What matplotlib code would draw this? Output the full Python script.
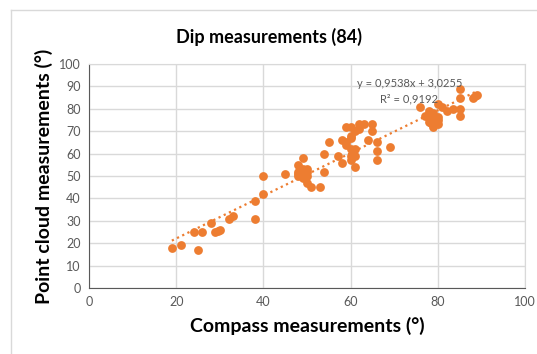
import matplotlib
matplotlib.use('Agg')
from matplotlib import pyplot as plt
import numpy as np

plt.rcParams['font.family'] = ['Lato', 'DejaVu Sans']

# dip values (84 points)
compass = [19, 21, 24, 25, 26, 28, 29, 30, 29.5, 32, 33, 38, 38, 40, 40, 45,
           48, 49, 48, 48, 49, 49, 50, 50, 48, 49, 50, 51, 53, 54, 54, 55, 57, 58, 58, 59,
           59, 60, 60, 60, 61, 60, 61, 61, 61, 62, 63, 62, 65, 65, 64, 66, 66, 66, 69, 60, 59,
           76, 78, 79, 79, 78, 78.5, 79, 80, 79, 80, 80, 81, 82, 83.5, 85, 85, 85, 85, 88, 89,
           88.5, 77, 78, 80, 50, 60, 79]
point_cloud = [18, 19, 25, 17, 25, 29, 25, 26, 25.5, 31, 32, 31, 39, 50, 42, 51,
               55, 58, 52, 51, 53, 51, 52, 50, 50, 49, 47, 45, 45, 52, 60, 65, 59, 56, 66, 65,
               72, 72, 68, 62, 62, 57, 59, 54, 70, 71, 73, 73, 73, 70, 66, 65, 61, 57, 63, 67, 64,
               81, 79, 78, 77, 74, 73.5, 74, 75, 72, 76.5, 82, 81, 79, 80, 80, 77, 85, 89, 85, 86,
               85.5, 77, 76, 73, 53, 59, 75]

# linear trend from the chart label
slope = 0.9538
intercept = 3.0255
eq_text = 'y = 0,9538x + 3,0255'
r2_text = 'R² = 0,9192'

orange = '#ED7D31'

fig = plt.figure(figsize=(5.37, 3.54), dpi=100)
# chart border like excel
fig.add_artist(plt.Line2D([11/537, 1], [1-10/354, 1-10/354], color='#D9D9D9', lw=1))
fig.add_artist(plt.Line2D([11/537, 11/537], [0, 1-10/354], color='#D9D9D9', lw=1))

ax = fig.add_axes([89/537, 1-288/354, (525-89)/537, (288-64)/354])
ax.scatter(compass, point_cloud, s=40, color=orange, zorder=3, linewidths=0)

xs = np.array([min(compass), max(compass)])
ax.plot(xs, slope*xs + intercept, color=orange, lw=1.6, ls=(0, (1, 1.6)), zorder=2)

ax.text(73.5, 91.5, eq_text, ha='center', va='center', fontsize=8, color='#595959')
ax.text(73.5, 84.5, r2_text, ha='center', va='center', fontsize=8, color='#595959')

ax.set_xlim(0, 100)
ax.set_ylim(0, 100)
ax.set_xticks(range(0, 101, 20))
ax.set_yticks(range(0, 101, 10))
ax.grid(True, color='#D9D9D9', lw=1)
ax.set_axisbelow(True)
for s in ['top', 'right']:
    ax.spines[s].set_color('#D9D9D9')
for s in ['left', 'bottom']:
    ax.spines[s].set_color('#595959')
ax.tick_params(length=0, labelsize=9, labelcolor='#595959', pad=6)

ax.set_xlabel('Compass measurements (°)', fontsize=14, fontweight='bold', labelpad=6)
ax.set_ylabel('Point cloud measurements (°)', fontsize=14, fontweight='bold', labelpad=4)
fig.text(0.5, 1-37/354, 'Dip measurements (84)', ha='center', va='center', fontsize=13, fontweight='bold')

plt.savefig('out.png', dpi=100)
